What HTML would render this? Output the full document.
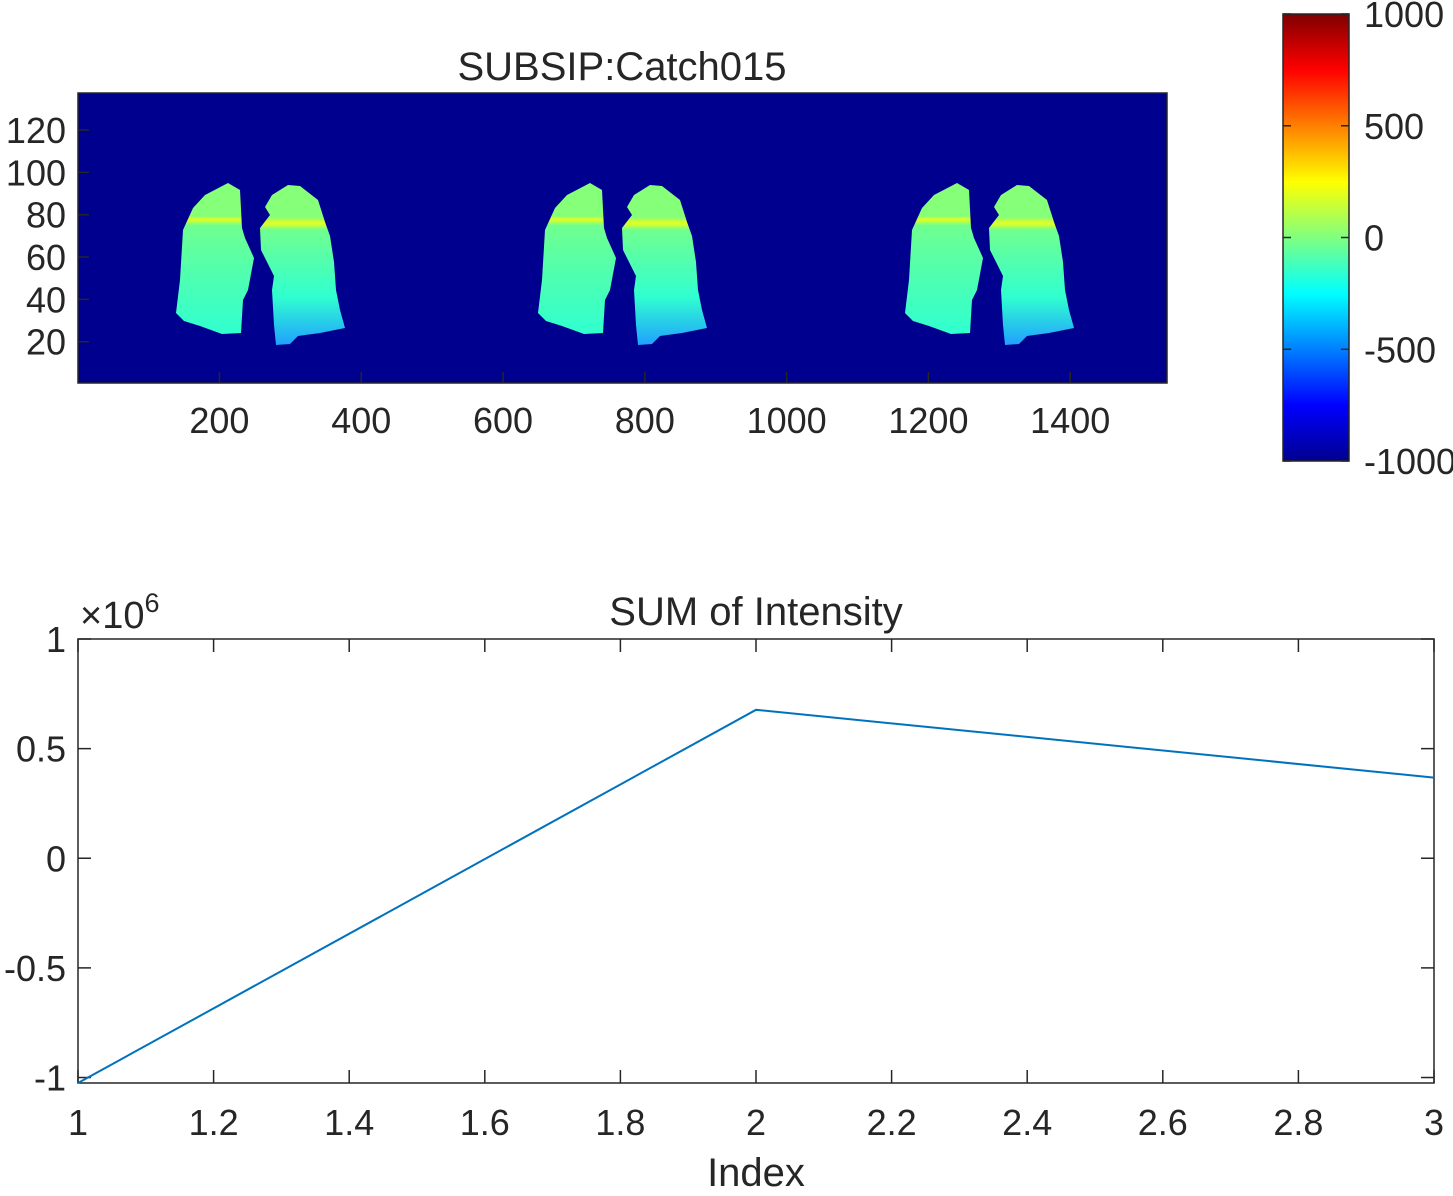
<!DOCTYPE html>
<html><head><meta charset="utf-8"><style>
html,body{margin:0;padding:0;background:#fff;}
svg text{font-family:"Liberation Sans",Arial,sans-serif;fill:#262626;}
</style></head><body>
<svg width="1453" height="1191" viewBox="0 0 1453 1191" xmlns="http://www.w3.org/2000/svg">
<defs>
<linearGradient id="jet" x1="0" y1="1" x2="0" y2="0">
<stop offset="0" stop-color="#00008f"/><stop offset="0.125" stop-color="#0000ff"/><stop offset="0.375" stop-color="#00ffff"/><stop offset="0.5" stop-color="#80ff80"/><stop offset="0.625" stop-color="#ffff00"/><stop offset="0.875" stop-color="#ff0000"/><stop offset="1" stop-color="#800000"/>
</linearGradient>
<linearGradient id="lungL" x1="0" y1="0" x2="0" y2="1">
<stop offset="0" stop-color="#86ff79"/><stop offset="0.22" stop-color="#86ff79"/><stop offset="0.24" stop-color="#e8ff1a"/><stop offset="0.28" stop-color="#70ff8f"/><stop offset="0.6" stop-color="#50ffaf"/><stop offset="1" stop-color="#30ffd0"/>
</linearGradient>
<linearGradient id="lungR" x1="0" y1="0" x2="0" y2="1">
<stop offset="0" stop-color="#86ff79"/><stop offset="0.2" stop-color="#86ff79"/><stop offset="0.24" stop-color="#e8ff1a"/><stop offset="0.28" stop-color="#70ff8f"/><stop offset="0.7" stop-color="#30ffd0"/><stop offset="1" stop-color="#20a0ff"/>
</linearGradient>
<g id="pair">
<path d="M228,183 L240,190 L242,228 L245,238 L254,258 L248,290 L243,300 L241,333 L222,334 L200,326 L184,321 L176,313 L180,280 L183,230 L193,208 L205,195 Z" fill="url(#lungL)"/>
<path d="M288,185 L300,186 L318,200 L325,222 L330,236 L334,262 L336,290 L340,310 L345,328 L320,333 L298,336 L290,344 L276,345 L274,325 L272,290 L274,276 L268,264 L261,250 L260,228 L270,215 L265,207 L272,195 Z" fill="url(#lungR)"/>
</g>
</defs>

<text x="622" y="80" font-size="40" text-anchor="middle">SUBSIP:Catch015</text>
<rect x="78" y="93" width="1089" height="290" fill="#00008f"/>
<g id="lungs">
<use href="#pair"/>
<use href="#pair" transform="translate(362,0)"/>
<use href="#pair" transform="translate(729,0)"/>
</g>
<rect x="78" y="93" width="1089" height="290" fill="none" stroke="#262626" stroke-width="1.5"/>
<g id="imgticks"></g>

<rect x="1283" y="14" width="66" height="447" fill="url(#jet)" stroke="#262626" stroke-width="1.5"/>
<g id="cbticks"></g>

<text x="756" y="625" font-size="40" text-anchor="middle">SUM of Intensity</text>
<text x="80" y="628" font-size="38">×10<tspan font-size="27" dy="-16">6</tspan></text>
<rect x="78" y="639" width="1356" height="444" fill="none" stroke="#262626" stroke-width="1.5"/>
<g id="lineticks"></g>
<polyline id="series" fill="none" stroke="#0072bd" stroke-width="2"/>
<text x="756" y="1186" font-size="40" text-anchor="middle">Index</text>
</svg>
<script>
const indexValues = [1, 2, 3];
const sumValues = [-1.025, 0.677, 0.368];
const lineXTicks = [1, 1.2, 1.4, 1.6, 1.8, 2, 2.2, 2.4, 2.6, 2.8, 3];
const lineYTicks = [-1, -0.5, 0, 0.5, 1];
const lineYLabels = ["-1", "-0.5", "0", "0.5", "1"];
const imgXTicks = [200, 400, 600, 800, 1000, 1200, 1400];
const imgYTicks = [20, 40, 60, 80, 100, 120];
const cbTicks = [-1000, -500, 0, 500, 1000];

const NS = "http://www.w3.org/2000/svg";
function mk(tag, attrs, parent, txt){const e=document.createElementNS(NS,tag);for(const k in attrs)e.setAttribute(k,attrs[k]);if(txt!==undefined)e.textContent=txt;parent.appendChild(e);return e;}

const lx = v => 78 + (v - 1) / 2 * 1356;
const ly = v => 639 + (1 - v) / 2.025 * 444;
const lt = document.getElementById('lineticks');
lineXTicks.forEach(v => {
  const x = lx(v);
  mk('line',{x1:x,y1:1083,x2:x,y2:1070,stroke:'#262626','stroke-width':1.5},lt);
  mk('line',{x1:x,y1:639,x2:x,y2:652,stroke:'#262626','stroke-width':1.5},lt);
  const t = mk('text',{x:x,y:1135,'font-size':36,'text-anchor':'middle'},lt,String(v));
  
  
});
lineYTicks.forEach((v,i) => {
  const y = ly(v);
  mk('line',{x1:78,y1:y,x2:91,y2:y,stroke:'#262626','stroke-width':1.5},lt);
  mk('line',{x1:1434,y1:y,x2:1421,y2:y,stroke:'#262626','stroke-width':1.5},lt);
  const t = mk('text',{x:66,y:y+13,'font-size':36,'text-anchor':'end'},lt,lineYLabels[i]);
  
  
});
document.getElementById('series').setAttribute('points', indexValues.map((v,i)=>lx(v)+','+ly(sumValues[i])).join(' '));

const ix = v => 78 + (v - 0.5) / 1536 * 1089;
const iy = v => 383 - (v - 0.5) / 137 * 290;
const it = document.getElementById('imgticks');
imgXTicks.forEach(v => {
  const x = ix(v);
  mk('line',{x1:x,y1:383,x2:x,y2:372,stroke:'#262626','stroke-width':1.5},it);
  const t = mk('text',{x:x,y:433,'font-size':36,'text-anchor':'middle'},it,String(v));
  
  
});
imgYTicks.forEach(v => {
  const y = iy(v);
  mk('line',{x1:78,y1:y,x2:89,y2:y,stroke:'#262626','stroke-width':1.5},it);
  const t = mk('text',{x:66,y:y+13,'font-size':36,'text-anchor':'end'},it,String(v));
  
  
});

const cy = v => 461 - (v + 1000) / 2000 * 447;
const ct = document.getElementById('cbticks');
cbTicks.forEach(v => {
  const y = cy(v);
  mk('line',{x1:1349,y1:y,x2:1341,y2:y,stroke:'#262626','stroke-width':1.5},ct);
  mk('line',{x1:1283,y1:y,x2:1291,y2:y,stroke:'#262626','stroke-width':1.5},ct);
  const t = mk('text',{x:1364,y:y+13,'font-size':36},ct,String(v));
  
  
});
</script>
</body></html>
